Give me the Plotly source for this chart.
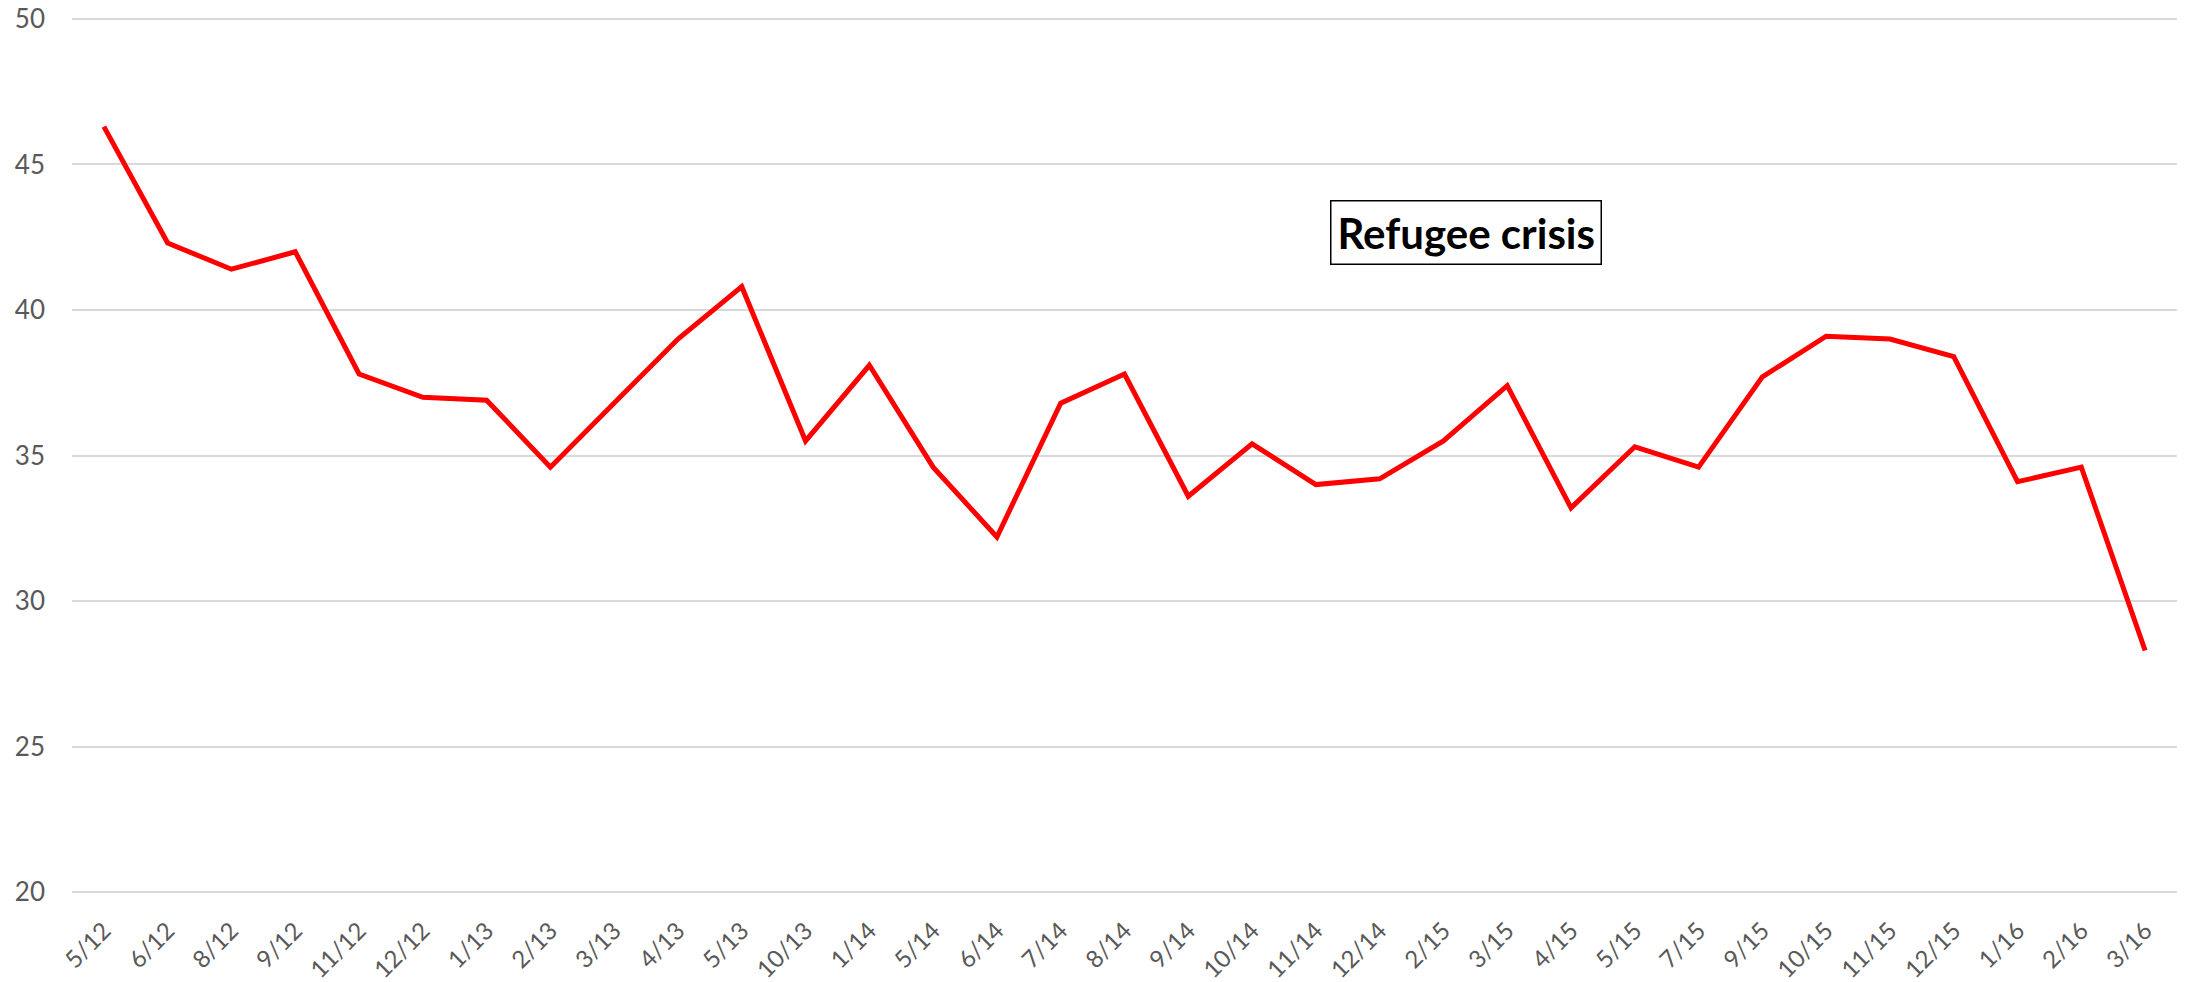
import plotly.graph_objects as go

# monthly survey points (month/year)
months = ["5/12", "6/12", "8/12", "9/12", "11/12", "12/12", "1/13", "2/13", "3/13", "4/13",
          "5/13", "10/13", "1/14", "5/14", "6/14", "7/14", "8/14", "9/14", "10/14", "11/14",
          "12/14", "2/15", "3/15", "4/15", "5/15", "7/15", "9/15", "10/15", "11/15", "12/15",
          "1/16", "2/16", "3/16"]
values = [46.3, 42.3, 41.4, 42.0, 37.8, 37.0, 36.9, 34.6, 36.8, 39.0,
          40.8, 35.5, 38.1, 34.6, 32.2, 36.8, 37.8, 33.6, 35.4, 34.0,
          34.2, 35.5, 37.4, 33.2, 35.3, 34.6, 37.7, 39.1, 39.0, 38.4,
          34.1, 34.6, 28.3]
y_ticks = [20, 25, 30, 35, 40, 45, 50]

fig = go.Figure()
fig.add_trace(go.Scatter(
    x=months, y=values, mode="lines",
    line=dict(color="#FF0000", width=5),
    showlegend=False,
))

fig.add_annotation(
    text="<b>Refugee crisis</b>",
    xref="paper", yref="y", x=0.662, y=42.67,
    showarrow=False,
    font=dict(family="Lato", size=42, color="black"),
    bordercolor="black", borderwidth=1.5, borderpad=6,
    bgcolor="white",
)

fig.update_layout(
    template="none",
    width=2188, height=982,
    margin=dict(l=72, r=11, t=16, b=87),
    plot_bgcolor="white", paper_bgcolor="white",
    font=dict(family="Lato", size=26, color="#595959"),
)
fig.update_xaxes(
    type="category", range=[-0.5, len(months) - 0.5], automargin=False,
    tickangle=-45, showgrid=False, zeroline=False, showline=False,
    tickfont=dict(size=24),
    ticks="", ticklabelstandoff=16,
)
# small padding on the range so the 20 and 50 grid lines are not clipped
fig.update_yaxes(
    range=[19.9, 50.1], tickvals=y_ticks, automargin=False,
    ticklabeloverflow="allow",
    showgrid=True, gridcolor="#d9d9d9", gridwidth=1.5,
    zeroline=False, showline=False, ticks="", ticklabelstandoff=26,
)

# drop the default 8px body margin so the chart fills the window exactly
fig.write_html("out.html", config={"displayModeBar": False},
               post_script="document.body.style.margin = '0';")
